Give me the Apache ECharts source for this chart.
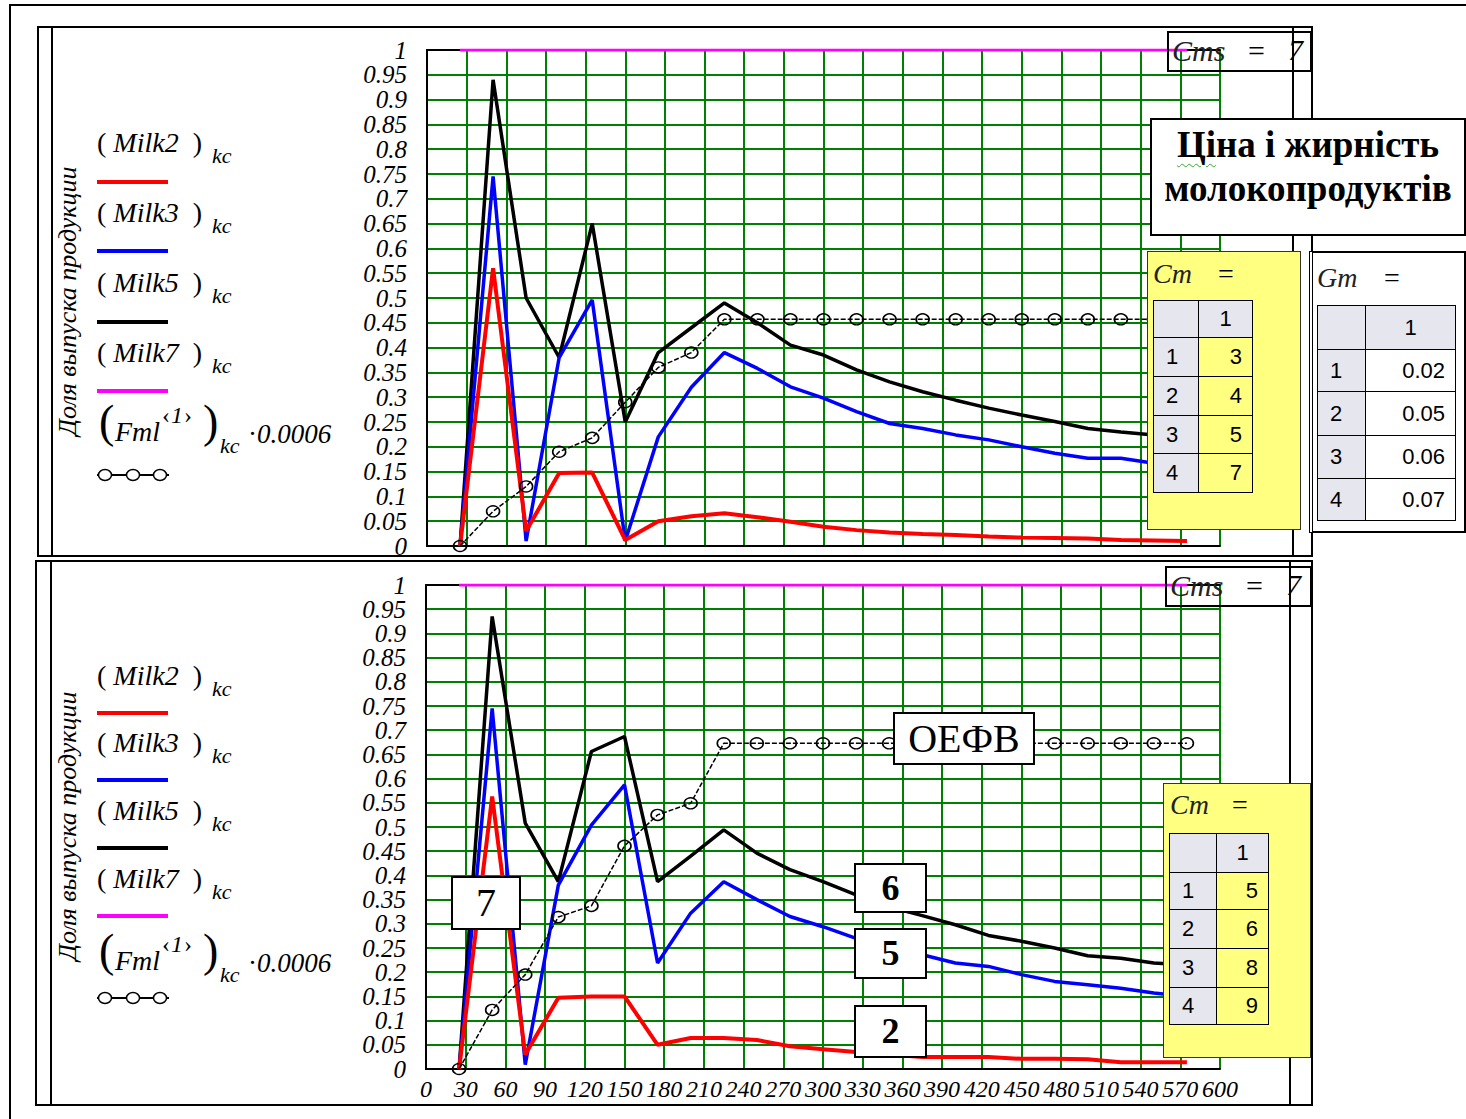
<!DOCTYPE html>
<html>
<head>
<meta charset="utf-8">
<script src="https://cdn.jsdelivr.net/npm/echarts@6/dist/echarts.min.js"></script>
<style>
html, body { margin: 0; padding: 0; background: #fff; }
#wrap { position: relative; width: 1466px; height: 1119px; overflow: hidden; }
#chart { position: absolute; left: 0; top: 0; width: 1466px; height: 1119px; }
.ov { position: absolute; box-sizing: border-box; z-index: 5; white-space: nowrap; }
.serif { font-family: 'Liberation Serif', 'DejaVu Serif', serif; }
.sans { font-family: 'Liberation Sans', Arial, sans-serif; }
table.mt { border-collapse: collapse; table-layout: fixed; font-family: 'Liberation Sans', Arial, sans-serif; font-size: 22px; }
table.mt td { border: 1.5px solid #000; padding: 0; box-sizing: border-box; }
</style>
</head>
<body>
<div id="wrap"><div id="chart"></div></div>
<script>
// x positions of the computed points (same for both plots)
const xs = [25, 50, 75, 100, 125, 150, 175, 200, 225, 250, 275, 300, 325, 350, 375, 400, 425, 450, 475, 500, 525, 550, 575];

// upper plot
const milk2Top = [0, 0.56, 0.03, 0.147, 0.148, 0.012, 0.05, 0.06, 0.066, 0.058, 0.049, 0.039, 0.032, 0.027, 0.024, 0.022, 0.019, 0.017, 0.016, 0.015, 0.012, 0.011, 0.01];
const milk3Top = [0, 0.745, 0.01, 0.38, 0.496, 0.01, 0.22, 0.32, 0.39, 0.358, 0.321, 0.298, 0.271, 0.247, 0.237, 0.224, 0.214, 0.2, 0.187, 0.177, 0.177, 0.167, 0.16];
const milk5Top = [0, 0.94, 0.5, 0.38, 0.65, 0.25, 0.39, 0.44, 0.49, 0.45, 0.405, 0.385, 0.355, 0.331, 0.311, 0.294, 0.278, 0.264, 0.251, 0.237, 0.23, 0.224, 0.22];
const milk7Top = [1, 1, 1, 1, 1, 1, 1, 1, 1, 1, 1, 1, 1, 1, 1, 1, 1, 1, 1, 1, 1, 1, 1];
const fmlTop = [0, 0.07, 0.12, 0.19, 0.218, 0.29, 0.36, 0.39, 0.457, 0.457, 0.457, 0.457, 0.457, 0.457, 0.457, 0.457, 0.457, 0.457, 0.457, 0.457, 0.457, 0.457, 0.457];

// lower plot
const milk2Bot = [0, 0.563, 0.03, 0.147, 0.15, 0.15, 0.05, 0.064, 0.064, 0.06, 0.047, 0.041, 0.035, 0.03, 0.025, 0.025, 0.025, 0.021, 0.021, 0.02, 0.014, 0.014, 0.014];
const milk3Bot = [0, 0.745, 0.009, 0.38, 0.504, 0.587, 0.219, 0.322, 0.387, 0.35, 0.315, 0.294, 0.27, 0.25, 0.236, 0.219, 0.212, 0.195, 0.181, 0.174, 0.167, 0.157, 0.15];
const milk5Bot = [0, 0.935, 0.508, 0.387, 0.656, 0.687, 0.387, 0.44, 0.494, 0.446, 0.412, 0.387, 0.36, 0.335, 0.317, 0.298, 0.276, 0.264, 0.25, 0.234, 0.229, 0.219, 0.215];
const milk7Bot = [1, 1, 1, 1, 1, 1, 1, 1, 1, 1, 1, 1, 1, 1, 1, 1, 1, 1, 1, 1, 1, 1, 1];
const fmlBot = [0, 0.122, 0.195, 0.314, 0.337, 0.461, 0.525, 0.549, 0.673, 0.673, 0.673, 0.673, 0.673, 0.673, 0.673, 0.673, 0.673, 0.673, 0.673, 0.673, 0.673, 0.673, 0.673];

// side tables
const cmTopValues = ['3', '4', '5', '7'];
const cmBotValues = ['5', '6', '8', '9'];
const gmValues = ['0.02', '0.05', '0.06', '0.07'];
const rowNums = ['1', '2', '3', '4'];

const serif = "'Liberation Serif', 'DejaVu Serif', serif";
const green = '#008000';

const zip = (ys) => xs.map((x, i) => [x, ys[i]]);

const xAxisCfg = (gi, showLabels) => ({
  gridIndex: gi, type: 'value', min: 0, max: 600, interval: 30,
  axisLine: { show: true, onZero: false, lineStyle: { color: '#000', width: 2 } },
  axisTick: { show: false },
  axisLabel: {
    show: showLabels, margin: 8, color: '#000', fontFamily: serif, fontStyle: 'italic', fontSize: 24,
    showMinLabel: true, showMaxLabel: true
  },
  splitLine: { show: true, lineStyle: { color: green, width: 2 } }
});

const yLabel = {
  margin: 20, color: '#000', fontFamily: serif, fontStyle: 'italic', fontSize: 25,
  formatter: (v) => String(+v.toFixed(2))
};

// inner ticks 0.05 … 0.95 with grid lines
const yAxisCfg = (gi) => ({
  gridIndex: gi, type: 'value', min: 0, max: 1, interval: 0.05,
  axisLine: { show: true, lineStyle: { color: '#000', width: 2 } },
  axisTick: { show: false },
  axisLabel: Object.assign({ showMinLabel: false, showMaxLabel: false }, yLabel),
  splitLine: { show: true, lineStyle: { color: green, width: 2 } }
});
// end ticks 0 and 1
const yEndCfg = (gi) => ({
  gridIndex: gi, type: 'value', min: 0, max: 1, interval: 1, position: 'left',
  axisLine: { show: false }, axisTick: { show: false }, splitLine: { show: false },
  axisLabel: Object.assign({ showMinLabel: true, showMaxLabel: true }, yLabel)
});

// frame axes for right and top edges
const edgeY = (gi) => ({
  gridIndex: gi, type: 'value', min: 0, max: 1, position: 'right',
  axisLine: { show: true, lineStyle: { color: '#000', width: 2 } },
  axisTick: { show: false }, axisLabel: { show: false }, splitLine: { show: false }
});
const edgeX = (gi) => ({
  gridIndex: gi, type: 'value', min: 0, max: 600, position: 'top',
  axisLine: { show: true, onZero: false, lineStyle: { color: '#000', width: 2 } },
  axisTick: { show: false }, axisLabel: { show: false }, splitLine: { show: false }
});

const lineSeries = (xi, yi, data, color, width, z) => ({
  type: 'line', xAxisIndex: xi, yAxisIndex: yi, data: zip(data),
  symbol: 'none', lineStyle: { color: color, width: width }, z: z, animation: false
});

const fmlSeries = (xi, yi, data) => ({
  type: 'line', xAxisIndex: xi, yAxisIndex: yi, data: zip(data),
  symbol: 'circle', symbolSize: [13, 11], showSymbol: true,
  itemStyle: { color: 'rgba(0,0,0,0)', borderColor: '#000', borderWidth: 1.5 },
  lineStyle: { color: '#000', width: 1.5, type: [5, 2] }, z: 6, animation: false
});

const chart = echarts.init(document.getElementById('chart'), null, { renderer: 'svg' });
chart.setOption({
  backgroundColor: 'transparent',
  animation: false,
  grid: [
    { left: 427, top: 50, width: 793, height: 496 },
    { left: 426, top: 585, width: 794, height: 484 }
  ],
  xAxis: [xAxisCfg(0, false), xAxisCfg(1, true), edgeX(0), edgeX(1)],
  yAxis: [yAxisCfg(0), yAxisCfg(1), edgeY(0), edgeY(1), yEndCfg(0), yEndCfg(1)],
  series: [
    lineSeries(0, 0, milk5Top, '#000000', 3.5, 3),
    lineSeries(0, 0, milk3Top, '#0000ff', 3.5, 4),
    lineSeries(0, 0, milk2Top, '#ff0000', 4, 5),
    lineSeries(0, 0, milk7Top, '#ff00ff', 3, 5),
    fmlSeries(0, 0, fmlTop),
    lineSeries(1, 1, milk5Bot, '#000000', 3.5, 3),
    lineSeries(1, 1, milk3Bot, '#0000ff', 3.5, 4),
    lineSeries(1, 1, milk2Bot, '#ff0000', 4, 5),
    lineSeries(1, 1, milk7Bot, '#ff00ff', 3, 5),
    fmlSeries(1, 1, fmlBot)
  ]
});

// ---- worksheet overlays (frames, legends, boxes, tables) ----
const wrap = document.getElementById('wrap');
function put(x, y, w, h, css, html, cls) {
  const d = document.createElement('div');
  d.className = 'ov ' + (cls || '');
  d.style.cssText = 'left:' + x + 'px;top:' + y + 'px;' +
    (w != null ? 'width:' + w + 'px;' : '') + (h != null ? 'height:' + h + 'px;' : '') + (css || '');
  if (html != null) d.innerHTML = html;
  wrap.appendChild(d);
  return d;
}

// page and region frames
put(9, 4, 1460, 1120, 'border-left:2px solid #000;border-top:2px solid #000;');
put(37, 26, 1276, 531, 'border:2px solid #000;');
put(51, 26, 2, 531, 'background:#000;');
put(1292, 26, 2, 531, 'background:#000;');
put(35, 560, 1278, 546, 'border:2px solid #000;');
put(50, 560, 2, 546, 'background:#000;');
put(1289, 560, 2, 546, 'background:#000;');

// legend block on the left of each plot
function legend(textY, lineY, fmlY, circY, titleCy) {
  const colors = ['#ff0000', '#0000ff', '#000000', '#ff00ff'];
  const names = ['Milk2', 'Milk3', 'Milk5', 'Milk7'];
  for (let i = 0; i < 4; i++) {
    put(97, textY[i], null, null, 'font-size:28px;line-height:30px;color:#000;',
      '(&nbsp;<i>' + names[i] + '</i>&nbsp;&nbsp;)', 'serif');
    put(212, textY[i] + 17, null, null, 'font-size:22px;line-height:22px;', '<i>kc</i>', 'serif');
    put(97, lineY[i] - 2, 71, 4, 'background:' + colors[i] + ';');
  }
  put(99, fmlY - 6, null, null, 'font-size:46px;line-height:50px;', '(', 'serif');
  put(115, fmlY + 14, null, null, 'font-size:28px;line-height:30px;', '<i>Fml</i>', 'serif');
  put(162, fmlY, null, null, 'font-size:24px;line-height:24px;letter-spacing:1px;', '‹<i>1</i>›', 'serif');
  put(203, fmlY - 6, null, null, 'font-size:46px;line-height:50px;', ')', 'serif');
  put(220, fmlY + 32, null, null, 'font-size:22px;line-height:22px;', '<i>kc</i>', 'serif');
  put(248, fmlY + 16, null, null, 'font-size:27px;line-height:30px;', '·<i>0.0006</i>', 'serif');
  put(95, circY - 8, 76, 16, '',
    '<svg width="76" height="16"><line x1="2" y1="8" x2="74" y2="8" stroke="#000" stroke-width="2"/>' +
    '<ellipse cx="10" cy="8" rx="6.5" ry="5.5" fill="#fff" stroke="#000" stroke-width="1.5"/>' +
    '<ellipse cx="38" cy="8" rx="6.5" ry="5.5" fill="#fff" stroke="#000" stroke-width="1.5"/>' +
    '<ellipse cx="65" cy="8" rx="6.5" ry="5.5" fill="#fff" stroke="#000" stroke-width="1.5"/></svg>');
  put(68 - 160, titleCy - 15, 320, 30,
    'transform:rotate(-90deg);text-align:center;font-size:26px;line-height:30px;',
    '<i>Доля выпуска продукции</i>', 'serif');
}
legend([128, 198, 268, 338], [182, 251, 322, 391], 403, 475, 301);
legend([661, 728, 796, 864], [713, 780, 848, 916], 932, 998, 826);

// "Cms = 7" boxes
function cmsBox(x, y, w, h) {
  put(x, y, w, h, 'border:2px solid #000;');
  put(x + 5, y + 3, null, null, 'font-size:30px;line-height:34px;color:#222;', '<i>Cms</i>', 'serif');
  put(x + 81, y + 3, null, null, 'font-size:30px;line-height:34px;', '=', 'serif');
  put(x + 121, y + 2, null, null, 'font-size:30px;line-height:34px;', '<i>7</i>', 'serif');
}
cmsBox(1167, 31, 145, 41);
cmsBox(1165, 566, 147, 41);

// title box
put(1150, 118, 316, 118, 'border:2px solid #000;background:#fff;text-align:center;font-size:37px;line-height:44px;font-weight:bold;padding-top:3px;',
  '<span style="text-decoration:underline wavy #3a3;text-decoration-thickness:1px;text-underline-offset:6px;">Ці</span>на і жирність<br>молокопродуктів', 'serif');

// matrix tables
function matrix(x, y, colW, rowH, vals, valBg) {
  let html = '<table class="mt">';
  html += '<tr style="height:' + rowH[0] + 'px"><td style="width:' + colW[0] + 'px;background:#e6e6ee"></td>' +
    '<td style="width:' + colW[1] + 'px;background:#e6e6ee;text-align:center">1</td></tr>';
  for (let i = 0; i < vals.length; i++) {
    html += '<tr style="height:' + rowH[i + 1] + 'px"><td style="background:#e6e6ee;padding-left:12px">' + rowNums[i] + '</td>' +
      '<td style="background:' + valBg + ';text-align:right;padding-right:10px">' + vals[i] + '</td></tr>';
  }
  html += '</table>';
  put(x, y, null, null, '', html);
}

// upper Cm (yellow)
put(1147, 251, 154, 279, 'background:#ffff80;border:1.5px solid #333;');
put(1153, 259, null, null, 'font-size:28px;line-height:30px;color:#222;', '<i>Cm</i>', 'serif');
put(1218, 259, null, null, 'font-size:28px;line-height:30px;', '=', 'serif');
matrix(1153, 300, [45, 54], [37, 39, 39, 38, 39], cmTopValues, '#ffff80');

// Gm (white)
put(1309, 251, 157, 282, 'background:#fff;border:2px solid #000;border-left:4px double #000;');
put(1317, 263, null, null, 'font-size:28px;line-height:30px;color:#222;', '<i>Gm</i>', 'serif');
put(1384, 263, null, null, 'font-size:28px;line-height:30px;', '=', 'serif');
matrix(1317, 305, [48, 90], [44, 42, 44, 43, 42], gmValues, '#fff');

// lower Cm (yellow)
put(1163, 783, 148, 275, 'background:#ffff80;border:1.5px solid #333;');
put(1170, 790, null, null, 'font-size:28px;line-height:30px;color:#222;', '<i>Cm</i>', 'serif');
put(1232, 790, null, null, 'font-size:28px;line-height:30px;', '=', 'serif');
matrix(1169, 833, [47, 52], [39, 37, 39, 39, 37], cmBotValues, '#ffff80');

// labels inside lower plot
function tag(x, y, w, h, txt, css) {
  put(x, y, w, h, 'border:2px solid #000;background:#fff;text-align:center;line-height:' + (h - 4) + 'px;' + css, txt, 'serif');
}
tag(893, 712, 142, 53, 'ОЕФВ', 'font-size:40px;');
tag(451, 876, 70, 54, '7', 'font-size:40px;');
tag(854, 863, 73, 50, '6', 'font-size:36px;font-weight:bold;');
tag(854, 928, 73, 51, '5', 'font-size:36px;font-weight:bold;');
tag(854, 1005, 73, 53, '2', 'font-size:36px;font-weight:bold;');
</script>
</body>
</html>
